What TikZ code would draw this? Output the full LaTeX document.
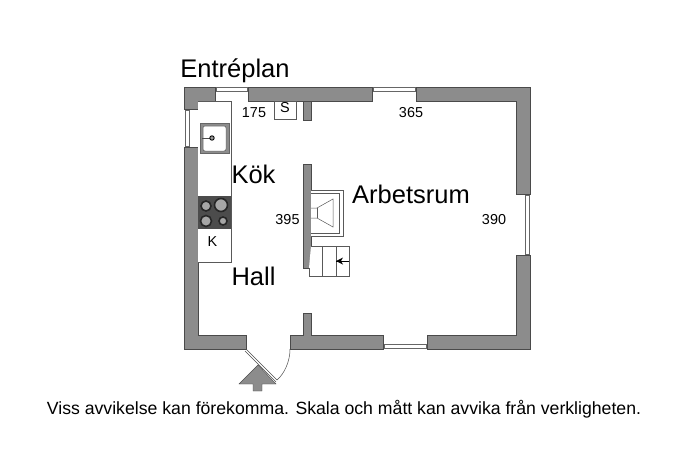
\documentclass[tikz,border=0pt]{standalone}
\usepackage{fontspec}
\setmainfont{Liberation Sans}
\usepackage{tikz}
\definecolor{wallgray}{HTML}{8C8C8C}
\definecolor{walledge}{HTML}{4A4A4A}
\tikzset{
	wall/.style={fill=wallgray,draw=walledge,line width=.6pt},
	fixture/.style={draw=black!65,line width=.5pt,fill=white},
	pane/.style={draw=black!60,line width=.5pt,fill=white},
	roomlabel/.style={font=\fontsize{25.5}{25.5}\selectfont,inner sep=0pt},
	sizelabel/.style={font=\fontsize{14.4}{14.4}\selectfont,inner sep=0pt},
	burner/.style={fill=black!35,draw=black!85,line width=1.6pt}
}
\begin{document}
\begin{tikzpicture}[x=1pt,y=-1pt]
	\useasboundingbox (0,0) rectangle (690,460);
	
	% walls
	\draw[wall] (184,87) -- (215,87) -- (215,101) -- (198,101) -- (198,109) -- (184,109) -- cycle;
	\draw[wall] (248,87) rectangle (372,101);
	\draw[wall] (416,87) -- (530,87) -- (530,194) -- (516,194) -- (516,101) -- (416,101) -- cycle;
	\draw[wall] (530,255) -- (530,349) -- (427,349) -- (427,335) -- (516,335) -- (516,255) -- cycle;
	\draw[wall] (290,349) -- (290,335) -- (303,335) -- (303,313) -- (311,313) -- (311,335) -- (383,335) -- (383,349) -- cycle;
	\draw[wall] (184,147) -- (198,147) -- (198,335) -- (246,335) -- (246,349) -- (184,349) -- cycle;
	\draw[wall] (303,101) rectangle (311,120);
	\draw[wall] (303,164) rectangle (311,268);
	
	% windows
	\draw[pane] (216,87) rectangle (247,91);
	\draw[pane] (373,87) rectangle (415,91);
	\draw[pane] (384,344.5) rectangle (426,348.5);
	\draw[pane] (185,110) rectangle (189,146);
	\draw[pane] (525,195) rectangle (529,254);
	
	% kitchen
	\draw[fixture] (198,101) -- (231,101) -- (231,262) -- (198,262);
	\draw[fixture] (274,101) rectangle (296,119);
	\draw[fill=wallgray,draw=black!60,line width=.4pt] (200,123) rectangle (229,153);
	\draw[fixture,rounded corners=2pt] (203,126) rectangle (226,151);
	\draw[line width=.5pt,black!70] (202,138) -- (212,138);
	\draw[line width=.9pt,fill=black!40] (212,138) circle (2.2pt);
	\fill[black!70] (198,196) rectangle (231,229);
	\draw[burner] (206,206) circle (5pt);
	\draw[burner] (221,205) circle (6.5pt);
	\draw[burner] (206,221) circle (5.5pt);
	\draw[burner] (223,221) circle (4pt);
	
	% fireplace
	\draw[fixture] (311,190) -- (343,190) -- (343,236) -- (311,236);
	\draw[fixture] (311,193) -- (339,193) -- (339,233) -- (311,233);
	\draw[line width=.5pt,black!65] (311,208) -- (317,208) -- (333,199) -- (333,227) -- (317,218) -- (311,218);
	\draw[line width=.5pt,black!65] (317,208) -- (317,218);
	
	% stairs
	\draw[fixture] (311,246) -- (349,246) -- (349,276) -- (309,276) -- (309,268);
	\draw[line width=.5pt,black!65] (322,246) -- (322,276);
	\draw[line width=.5pt,black!65] (336,246) -- (336,276);
	\coordinate (stairtop) at (349,261);
	\coordinate (stairend) at (336,261);
	\draw[line width=.6pt] (stairtop) -- (stairend);
	\fill (336,261) -- (343,257.5) -- (341,261) -- (343,264.5) -- cycle;
	
	% door
	\coordinate (hinge) at (246,349);
	\coordinate (leaf) at (277,380);
	\coordinate (jamb) at (290,349);
	\draw[line width=.5pt,black!70] (hinge) -- (leaf);
	\draw[line width=.5pt,black!70] (245,351) -- (276,382);
	\draw[line width=.5pt,black!70] (leaf) .. controls (284,374) and (290,362) .. (jamb);
	
	% entrance arrow
	\draw[wall,line width=.4pt] (258,365) -- (276,384) -- (262,384) -- (262,391) -- (253,391) -- (253,384) -- (239,384) -- cycle;
	
	% texts
	\node[roomlabel] (plan) at (235,71) {Entréplan};
	\node[roomlabel] (kok) at (253.5,174) {Kök};
	\node[roomlabel] (hall) at (253.5,276) {Hall};
	\node[roomlabel] (arbetsrum) at (411,194) {Arbetsrum};
	\node[sizelabel] (kokw) at (254,113) {175};
	\node[sizelabel] (arbw) at (411,113) {365};
	\node[sizelabel] (kokh) at (287.5,220) {395};
	\node[sizelabel] (arbh) at (494,220) {390};
	\node[sizelabel] (shelf) at (285,108) {S};
	\node[sizelabel] (fridge) at (212.5,242) {K};
	\node[font=\fontsize{17.66}{17.66}\selectfont,inner sep=0pt] (note) at (344,409) {Viss avvikelse kan förekomma. Skala och mått kan avvika från verkligheten.};
	
\end{tikzpicture}
\end{document}
